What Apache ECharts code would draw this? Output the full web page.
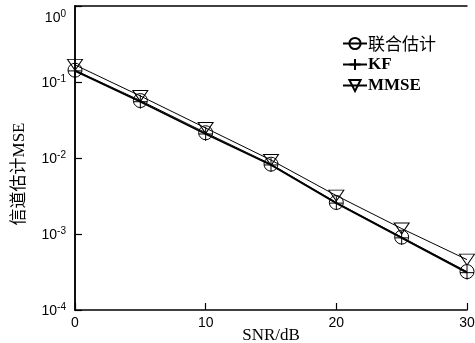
<!DOCTYPE html>
<html><head><meta charset="utf-8">
<script src="https://cdn.jsdelivr.net/npm/echarts@6/dist/echarts.min.js"></script>
<style>html,body{margin:0;padding:0;background:#fff}#c{width:475px;height:343px}</style>
</head><body><div id="c"></div>
<script>
var snr = [0, 5, 10, 15, 20, 25, 30];
var joint = [0.143, 0.057, 0.0215, 0.0083, 0.0026, 0.00091, 0.00032];
var kf = [0.140, 0.055, 0.0207, 0.0081, 0.00255, 0.00089, 0.00031];
var mmse = [0.168, 0.0655, 0.0248, 0.0094, 0.0032, 0.00118, 0.00046];
var seriesNames = ['联合估计', 'KF', 'MMSE'];
var xTicks = [0, 10, 20, 30];

function pairs(v){ return snr.map(function(x,i){ return [x, v[i]]; }); }
var chart = echarts.init(document.getElementById('c'), null, {renderer:'canvas'});
var transp = 'rgba(0,0,0,0)';
var borderAxisLine = {show:true, lineStyle:{color:'#000', width:1.5}};
chart.setOption({
  animation:false,
  grid:{left:75, right:8, top:6, bottom:33, outerBoundsMode:'none', containLabel:false},
  legend:{
    orient:'vertical', left:337, top:30, itemGap:4, itemWidth:24, itemHeight:14,
    textStyle:{fontFamily:'Liberation Serif, "Noto Sans CJK SC"', fontSize:17, fontWeight:'bold', color:'#000', padding:[0,0,0,-4],
      rich:{c:{fontFamily:'"Noto Sans CJK SC"', fontSize:17, fontWeight:'normal', color:'#000'}}},
    formatter:function(n){ return /[\u4e00-\u9fff]/.test(n) ? '{c|'+n+'}' : n; },
    data: seriesNames
  },
  xAxis:[{
    type:'value', min:0, max:30, interval:10, position:'bottom',
    name:'SNR/dB', nameLocation:'middle', nameGap:17, nameMoveOverlap:false,
    nameTextStyle:{fontFamily:'Liberation Serif', fontSize:17, color:'#000'},
    axisLine:borderAxisLine,
    axisTick:{show:true, inside:true, length:7, lineStyle:{color:'#000', width:1.2}},
    axisLabel:{fontFamily:'Liberation Sans', fontSize:14, color:'#000', margin:6,
      formatter:function(v){ return xTicks.indexOf(v)>=0 ? String(v) : ''; }},
    splitLine:{show:false}
  },{
    type:'value', min:0, max:30, position:'top',
    axisLine:borderAxisLine, axisTick:{show:false}, axisLabel:{show:false}, splitLine:{show:false}
  }],
  yAxis:[{
    type:'log', logBase:10, min:1e-4, max:1, position:'left',
    name:'信道估计MSE', nameLocation:'middle', nameGap:47, nameMoveOverlap:false, nameRotate:90,
    nameTextStyle:{fontFamily:'Liberation Serif, "Noto Sans CJK SC"', fontSize:17, color:'#000', padding:[0,32,0,0]},
    axisLine:borderAxisLine,
    axisTick:{show:true, inside:true, length:7, lineStyle:{color:'#000', width:1.2}},
    axisLabel:{color:'#000', margin:9,
      formatter:function(v){
        var e=Math.round(Math.log10(v));
        var s='{b|10}{e|'+e+'}';
        return e===0 ? '{s| }\n'+s : s;
      },
      rich:{
        s:{fontSize:10, lineHeight:22},
        b:{fontFamily:'Liberation Sans', fontSize:14, lineHeight:16, verticalAlign:'bottom', color:'#000'},
        e:{fontFamily:'Liberation Sans', fontSize:10, lineHeight:16, verticalAlign:'top', color:'#000', padding:[0,0,6,0]}
      }},
    splitLine:{show:false}
  },{
    type:'log', logBase:10, min:1e-4, max:1, position:'right',
    axisLine:borderAxisLine, axisTick:{show:false}, axisLabel:{show:false}, splitLine:{show:false}
  }],
  series:[
    {name:seriesNames[0], type:'line', data:pairs(joint), symbol:'circle', symbolSize:14,
      lineStyle:{color:'#000', width:1}, itemStyle:{color:transp, borderColor:'#000', borderWidth:1}, z:3},
    {name:seriesNames[1], type:'line', data:pairs(kf), symbol:'path://M5,0 L5,10 M0,5 L10,5', symbolSize:14,
      lineStyle:{color:'#000', width:1.8}, itemStyle:{color:transp, borderColor:'#000', borderWidth:1}, z:2},
    {name:seriesNames[2], type:'line', data:pairs(mmse), symbol:'path://M0,0 L14,0 L7,11 Z', symbolSize:[15,11],
      lineStyle:{color:'#000', width:1}, itemStyle:{color:transp, borderColor:'#000', borderWidth:1}, z:1}
  ]
});
</script></body></html>
